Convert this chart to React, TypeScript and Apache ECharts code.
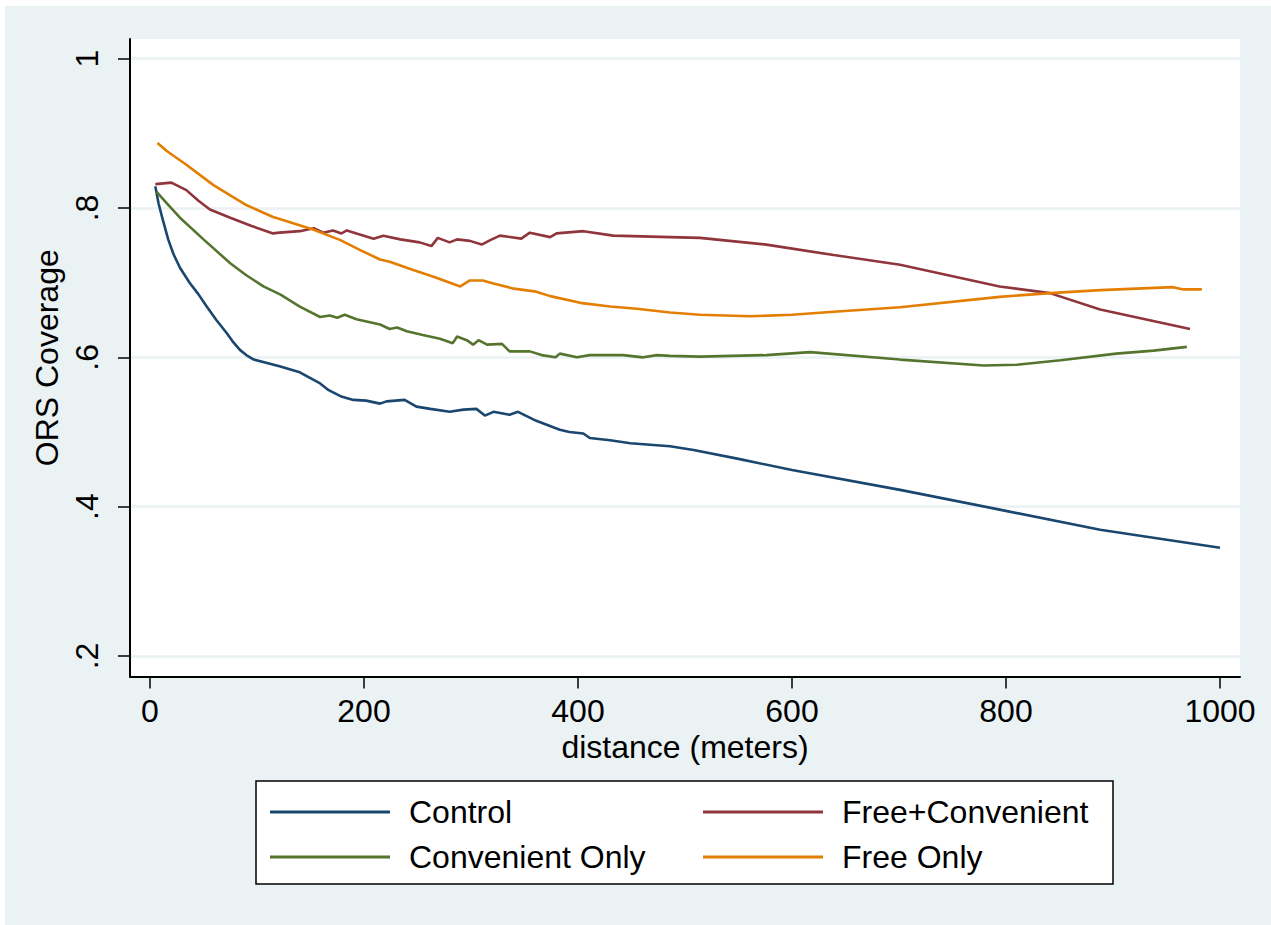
import React, { useEffect, useRef } from "react";
import * as echarts from "echarts";

const xTicks = [0, 200, 400, 600, 800, 1000];
const xTickLabels = ["0", "200", "400", "600", "800", "1000"];
const yTicks = [0.2, 0.4, 0.6, 0.8, 1];
const yTickLabels = [".2", ".4", ".6", ".8", "1"];

const seriesNames = ["Control", "Free+Convenient", "Convenient Only", "Free Only"];

const controlData = [
  [5, 0.829], [8, 0.806], [12, 0.784], [17, 0.758], [22, 0.738], [28, 0.72], [37, 0.7], [45, 0.685],
  [53, 0.668], [62, 0.65], [72, 0.632], [78, 0.62], [84, 0.61], [90, 0.603], [97, 0.597],
  [121, 0.588], [140, 0.58], [159, 0.565], [167, 0.556], [178, 0.548], [190, 0.543], [202, 0.542],
  [215, 0.538], [221, 0.541], [238, 0.543], [249, 0.534], [262, 0.531], [280, 0.527], [293, 0.53],
  [305, 0.531], [313, 0.522], [321, 0.527], [336, 0.523], [344, 0.527], [361, 0.515], [383, 0.503],
  [392, 0.5], [405, 0.498], [411, 0.492], [430, 0.489], [449, 0.485], [486, 0.481], [508, 0.476],
  [550, 0.464], [600, 0.449], [701, 0.4225], [794, 0.396], [888, 0.369], [1000, 0.345],
];

const freeConvData = [
  [5, 0.832], [20, 0.834], [34, 0.824], [45, 0.81], [56, 0.798], [75, 0.787], [95, 0.776], [115, 0.766], [121, 0.767],
  [140, 0.769], [153, 0.773], [162, 0.767], [171, 0.77], [179, 0.766], [184, 0.77], [193, 0.766],
  [209, 0.759], [218, 0.763], [234, 0.758], [252, 0.754], [263, 0.749], [269, 0.76], [280, 0.754],
  [287, 0.758], [299, 0.756], [310, 0.751], [318, 0.757], [327, 0.763], [347, 0.759], [355, 0.767],
  [374, 0.761], [380, 0.766], [405, 0.769], [433, 0.763], [486, 0.761], [514, 0.76], [576, 0.751],
  [639, 0.737], [701, 0.724], [794, 0.695], [841, 0.686], [888, 0.664], [972, 0.638],
];

const convOnlyData = [
  [6, 0.822], [16, 0.806], [28, 0.787], [50, 0.758], [75, 0.726], [90, 0.71], [106, 0.695], [122, 0.684], [140, 0.668],
  [159, 0.654], [168, 0.656], [175, 0.653], [182, 0.657], [193, 0.651], [215, 0.644], [224, 0.638],
  [231, 0.64], [240, 0.635], [255, 0.63], [271, 0.625], [283, 0.619], [287, 0.628], [296, 0.623],
  [302, 0.617], [307, 0.623], [315, 0.617], [329, 0.618], [336, 0.608], [355, 0.608], [366, 0.603],
  [379, 0.6], [383, 0.605], [399, 0.6], [411, 0.603], [442, 0.603], [461, 0.6], [474, 0.603],
  [486, 0.602], [514, 0.601], [576, 0.603], [617, 0.607], [701, 0.597], [779, 0.589], [810, 0.59],
  [851, 0.596], [903, 0.605], [938, 0.609], [969, 0.614],
];

const freeOnlyData = [
  [7, 0.887], [16, 0.876], [34, 0.858], [59, 0.831], [75, 0.817], [90, 0.804], [115, 0.788], [122, 0.785],
  [153, 0.771], [178, 0.757], [196, 0.744], [215, 0.731], [224, 0.728], [246, 0.717], [265, 0.708],
  [290, 0.695], [299, 0.703], [311, 0.703], [321, 0.699], [340, 0.692], [361, 0.688], [374, 0.682],
  [402, 0.673], [430, 0.668], [455, 0.665], [486, 0.66], [514, 0.657], [561, 0.655], [600, 0.657],
  [639, 0.661], [701, 0.667], [794, 0.681], [841, 0.686], [888, 0.69], [956, 0.694], [966, 0.691],
  [983, 0.691],
];

const seriesData = [controlData, freeConvData, convOnlyData, freeOnlyData];
const colors = ["#1a476f", "#90353b", "#55752f", "#e37e00"];

const FONT = "'Liberation Sans', Arial, Helvetica, sans-serif";
const BG = "#EAF2F3";
const FS = 32;

export default function App() {
  const ref = useRef<HTMLDivElement>(null);

  useEffect(() => {
    document.body.style.margin = "0";
    if (!ref.current) return;
    const chart = echarts.init(ref.current, null, { renderer: "svg" });
    const legendCommon = {
      orient: "vertical",
      top: 794,
      icon: "rect",
      itemWidth: 120,
      itemHeight: 3,
      itemGap: 9,
      textStyle: { fontSize: FS, color: "#000", lineHeight: 36, padding: [0, 0, 0, 14], fontFamily: FONT },
      padding: 0,
      selectedMode: false,
    };
    const option: any = {
      animation: false,
      backgroundColor: "#ffffff",
      textStyle: { fontFamily: FONT },
      graphic: [
        {
          type: "rect",
          z: -100,
          shape: { x: 5, y: 6, width: 1266, height: 919 },
          style: { fill: BG },
          silent: true,
        },
        {
          type: "rect",
          z: 3,
          shape: { x: 256, y: 781, width: 857, height: 103 },
          style: { fill: "#ffffff", stroke: "#000000", lineWidth: 1.5 },
          silent: true,
        },
      ],
      grid: {
        left: 130,
        right: 31,
        top: 39,
        bottom: 248.5,
        show: true,
        backgroundColor: "#ffffff",
        borderWidth: 0,
        containLabel: false,
      },
      xAxis: {
        type: "value",
        min: -18.69,
        max: 1018.69,
        name: "distance (meters)",
        nameLocation: "middle",
        nameGap: 52,
        nameTextStyle: { fontSize: FS, color: "#000", fontFamily: FONT },
        axisLine: { show: true, onZero: false, lineStyle: { color: "#000", width: 2 } },
        axisTick: { show: true, length: 12, customValues: xTicks, lineStyle: { color: "#000", width: 1.5 } },
        axisLabel: {
          show: true,
          customValues: xTicks,
          margin: 18,
          fontSize: FS,
          color: "#000",
          fontFamily: FONT,
          formatter: (v: number) => {
            const i = xTicks.findIndex((t) => Math.abs(t - v) < 1e-6);
            return i >= 0 ? xTickLabels[i] : "";
          },
        },
        splitLine: { show: false },
      },
      yAxis: {
        type: "value",
        min: 0.1725,
        max: 1.0264,
        name: "ORS Coverage",
        nameLocation: "middle",
        nameGap: 58,
        nameRotate: 90,
        nameTextStyle: { fontSize: FS, color: "#000", fontFamily: FONT },
        axisLine: { show: true, onZero: false, lineStyle: { color: "#000", width: 2 } },
        axisTick: { show: true, length: 12, customValues: yTicks, lineStyle: { color: "#000", width: 1.5 } },
        axisLabel: {
          show: true,
          customValues: yTicks,
          rotate: 90,
          margin: 27,
          fontSize: FS,
          color: "#000",
          fontFamily: FONT,
          formatter: (v: number) => {
            const i = yTicks.findIndex((t) => Math.abs(t - v) < 1e-6);
            return i >= 0 ? yTickLabels[i] : "";
          },
        },
        splitLine: { show: true, lineStyle: { color: BG, width: 2.5 } },
      },
      legend: [
        { ...legendCommon, data: [seriesNames[0], seriesNames[2]], left: 270 },
        { ...legendCommon, data: [seriesNames[1], seriesNames[3]], left: 703 },
      ],
      series: seriesNames.map((name, i) => ({
        name,
        type: "line",
        data: seriesData[i],
        showSymbol: false,
        symbol: "none",
        smooth: false,
        color: colors[i],
        lineStyle: { color: colors[i], width: 2.6 },
        z: 2,
      })),
    };
    chart.setOption(option);
    return () => chart.dispose();
  }, []);

  return <div ref={ref} style={{ width: 1271, height: 925 }} />;
}
